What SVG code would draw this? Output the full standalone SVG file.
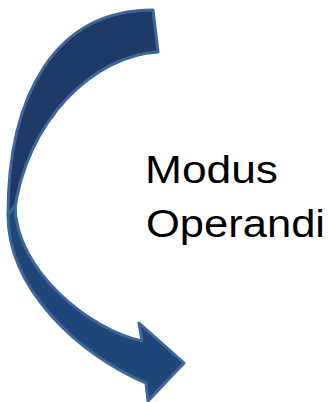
<svg xmlns="http://www.w3.org/2000/svg" width="329" height="402" viewBox="0 0 329 402">
<style>
.band{stroke:#3E6698;stroke-width:3;stroke-linejoin:round}
.back{fill:#1D3B66}
.front{fill:#21477A}
.lbl{font-family:"Liberation Sans",Arial,sans-serif;font-size:38px;fill:#000}
</style>
<rect width="329" height="402" fill="#fff"/>
<g id="arrow">
<path class="band back" d="M153,10 C55,10 8,95 8,215 L14,215 C25,120 95,55 158,52 Z"/>
<path class="band front" d="M8,215 C8,290 80,355 146,383 L148,401 L184,363 L139,323 L142,341 C90,330 15,270 15,205 Z"/>
</g>
<g id="label">
<text class="lbl" x="145" y="183" textLength="133" lengthAdjust="spacingAndGlyphs">Modus</text>
<text class="lbl" x="146" y="237" textLength="179" lengthAdjust="spacingAndGlyphs">Operandi</text>
</g>
</svg>
